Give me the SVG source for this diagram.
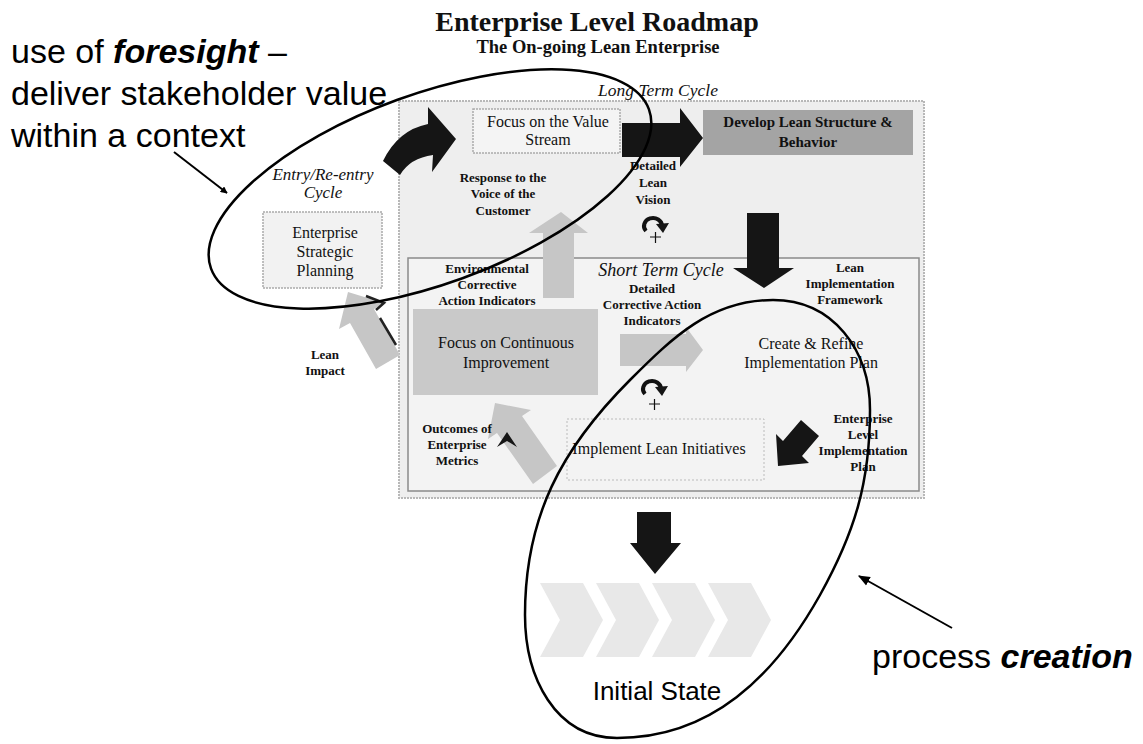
<svg xmlns="http://www.w3.org/2000/svg" width="1143" height="744" viewBox="0 0 1143 744">
<style>
.lbl{font-family:"Liberation Serif","Times New Roman",serif;font-weight:bold;font-size:13px;fill:#111;text-anchor:middle}
.box{font-family:"Liberation Serif","Times New Roman",serif;font-size:16px;fill:#111;text-anchor:middle}
.it{font-family:"Liberation Serif","Times New Roman",serif;font-style:italic;fill:#111;text-anchor:middle}
.ann{font-family:"Liberation Sans",Arial,sans-serif;fill:#000}
.ell{fill:none;stroke:#000;stroke-width:2.5}
.blk{fill:#151515}
.gry{fill:#c6c6c6}
.ptr{stroke:#000;stroke-width:2;fill:none}
</style>
<defs>
<marker id="ah" viewBox="0 0 10 10" refX="9" refY="5" markerWidth="7" markerHeight="7" orient="auto" markerUnits="userSpaceOnUse">
<path d="M0,0 L10,5 L0,10 z" fill="#000"/>
</marker>
<marker id="ah2" viewBox="0 0 10 10" refX="9" refY="5" markerWidth="12" markerHeight="12" orient="auto" markerUnits="userSpaceOnUse">
<path d="M0,1 L10,5 L0,9 z" fill="#000"/>
</marker>
</defs>
<rect width="1143" height="744" fill="#fff"/>

<g id="title">
<text x="597" y="31" class="box" style="font-weight:bold;font-size:28px">Enterprise Level Roadmap</text>
<text x="598" y="53" class="box" style="font-weight:bold;font-size:18.5px">The On-going Lean Enterprise</text>
</g>

<g id="long-term-panel">
<rect x="399" y="101" width="525" height="397" fill="#eeeeee" stroke="#b8b8b8" stroke-width="2" stroke-dasharray="2 1"/>
<text x="658" y="96" class="it" style="font-size:17.5px">Long Term Cycle</text>
</g>

<g id="short-term-panel">
<rect x="408" y="258" width="511" height="233" fill="#f3f3f3" stroke="#8a8a8a" stroke-width="1.5"/>
<text x="661" y="276" class="it" style="font-size:18px">Short Term Cycle</text>
</g>

<g id="value-stream">
<rect x="473" y="109" width="147" height="44" fill="#f4f4f4" stroke="#aaa" stroke-width="1.5" stroke-dasharray="2 1"/>
<text x="548" y="127" class="box">Focus on the Value</text>
<text x="548" y="145" class="box">Stream</text>
</g>

<g id="develop-lean">
<rect x="703" y="110" width="210" height="45" fill="#a4a4a4"/>
<text x="808" y="127" class="box" style="font-weight:bold;font-size:15px">Develop Lean Structure &amp;</text>
<text x="808" y="147" class="box" style="font-weight:bold;font-size:15px">Behavior</text>
</g>

<g id="entry-cycle">
<text x="323" y="180" class="it" style="font-size:17px">Entry/Re-entry</text>
<text x="323" y="198" class="it" style="font-size:17px">Cycle</text>
</g>

<g id="strategic-planning">
<rect x="263" y="212" width="119" height="76" fill="#f2f2f2" stroke="#aaa" stroke-width="1.5" stroke-dasharray="2 1"/>
<text x="325" y="238" class="box">Enterprise</text>
<text x="325" y="257" class="box">Strategic</text>
<text x="325" y="276" class="box">Planning</text>
</g>

<g id="continuous-improvement">
<rect x="413" y="309" width="185" height="86" fill="#c9c9c9"/>
<text x="506" y="348" class="box" style="font-size:16px">Focus on Continuous</text>
<text x="506" y="368" class="box" style="font-size:16px">Improvement</text>
</g>

<g id="create-refine">
<text x="811" y="349" class="box">Create &amp; Refine</text>
<text x="811" y="368" class="box">Implementation Plan</text>
</g>

<g id="implement">
<rect x="567" y="419" width="197" height="61" fill="#f3f3f3" stroke="#bbb" stroke-width="1" stroke-dasharray="2 2"/>
<text x="659" y="454" class="box">Implement Lean Initiatives</text>
</g>

<g id="initial-state">
<g fill="#e8e8e8">
<polygon points="540,583 583,583 603,620 583,657 540,657 560,620"/>
<polygon points="596,583 639,583 659,620 639,657 596,657 616,620"/>
<polygon points="652,583 695,583 715,620 695,657 652,657 672,620"/>
<polygon points="708,583 751,583 771,620 751,657 708,657 728,620"/>
</g>
<text x="657" y="700" class="ann" style="font-size:26px;text-anchor:middle">Initial State</text>
</g>

<g id="connectors">
<path class="blk" d="M383,161 Q398,130 428,124 L428,107 L456,139 L432,172 L433,155 Q410,158 400,175 Z"/>
<polygon class="blk" points="622,123 680,123 680,108 703,138 680,167 680,157 622,157"/>
<polygon class="blk" points="747,213 779,213 779,268 794,268 764,288 733,268 747,268"/>
<polygon class="gry" points="543,298 543,233 529,233 561,212 588,233 574,233 574,298"/>
<polygon class="gry" points="620,334 686,334 686,327 703,350 686,372 686,366 620,366"/>
<polygon class="gry" points="376,369 350,323 339,329 348,292 384,303 374,309 400,355"/>
<path d="M366,296 L384,303 L376,310 M380,318 L396,345" fill="none" stroke="#222" stroke-width="2.5"/>
<polygon class="gry" points="533,484 497,433 488,439 495,403 531,410 522,416 557,466"/>
<path class="blk" d="M497,447 L507,432 L517,447 L507,441 Z"/>
<polygon class="blk" points="801,420 783,441 776,434 778,466 809,463 802,456 819,436"/>
<polygon class="blk" points="637,512 671,512 671,543 681,543 655,574 630,543 637,543"/>
<path d="M646,231 A9,8 0 1 1 662,226" fill="none" stroke="#111" stroke-width="4"/>
<polygon class="blk" points="656,224 669,223 663,233"/>
<path d="M650,237 H661 M655.5,232 V243" stroke="#111" stroke-width="1.2"/>
<path d="M645,394 A9,8 0 1 1 661,389" fill="none" stroke="#111" stroke-width="4"/>
<polygon class="blk" points="655,387 668,386 662,396"/>
<path d="M649,404 H660 M654.5,399 V410" stroke="#111" stroke-width="1.2"/>
<line class="ptr" x1="174" y1="152" x2="227" y2="193" marker-end="url(#ah)"/>
<line class="ptr" x1="952" y1="628" x2="859" y2="576" marker-end="url(#ah2)"/>
</g>

<g id="labels">
<text class="lbl" x="503" y="182">Response to the</text>
<text class="lbl" x="503" y="198">Voice of the</text>
<text class="lbl" x="503" y="215">Customer</text>
<text class="lbl" x="653" y="170">Detailed</text>
<text class="lbl" x="653" y="187">Lean</text>
<text class="lbl" x="653" y="204">Vision</text>
<text class="lbl" x="487" y="273">Environmental</text>
<text class="lbl" x="487" y="289">Corrective</text>
<text class="lbl" x="487" y="305">Action Indicators</text>
<text class="lbl" x="652" y="293">Detailed</text>
<text class="lbl" x="652" y="309">Corrective Action</text>
<text class="lbl" x="652" y="325">Indicators</text>
<text class="lbl" x="850" y="272">Lean</text>
<text class="lbl" x="850" y="288">Implementation</text>
<text class="lbl" x="850" y="304">Framework</text>
<text class="lbl" x="325" y="359">Lean</text>
<text class="lbl" x="325" y="375">Impact</text>
<text class="lbl" x="457" y="433">Outcomes of</text>
<text class="lbl" x="457" y="449">Enterprise</text>
<text class="lbl" x="457" y="465">Metrics</text>
<text class="lbl" x="863" y="423">Enterprise</text>
<text class="lbl" x="863" y="439">Level</text>
<text class="lbl" x="863" y="455">Implementation</text>
<text class="lbl" x="863" y="471">Plan</text>
</g>

<g id="annotations">
<text x="11" y="63" class="ann" style="font-size:34px">use of <tspan font-weight="bold" font-style="italic">foresight</tspan> –</text>
<text x="11" y="105" class="ann" style="font-size:34px">deliver stakeholder value</text>
<text x="11" y="147" class="ann" style="font-size:34px">within a context</text>
<text x="872" y="668" class="ann" style="font-size:34px">process <tspan font-weight="bold" font-style="italic">creation</tspan></text>
</g>

<g id="ellipses">
<ellipse class="ell" cx="430" cy="189" rx="233" ry="95" transform="rotate(-20 430 189)"/>
<path class="ell" d="M773,300 C833,300 870,350 870,410 C870,482 855,532 820,595 C774,677 711,738 617,738 C555,738 525,677 525,615 C525,517 561,449 630,380 C673,337 711,300 773,300 Z"/>
</g>
</svg>
